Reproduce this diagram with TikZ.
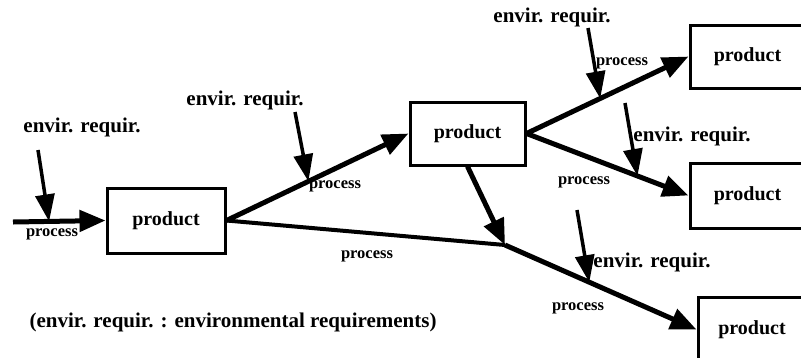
\documentclass[tikz,border=0pt]{standalone}
\usepackage{fontspec}
\setmainfont{Liberation Serif}
\usetikzlibrary{arrows.meta,calc}
\begin{document}
\begin{tikzpicture}[x=1pt,y=-1pt,
  box/.style={draw,line width=3pt,minimum width=115pt,minimum height=63pt,inner sep=0pt,font=\fontsize{20}{24}\selectfont\bfseries},
  flow/.style={line width=5pt,-{Triangle[length=26pt,width=21pt]}},
  plain/.style={line width=4pt},
  req/.style={line width=3.5pt,-{Triangle[length=27pt,width=19pt]}},
  lab/.style={font=\fontsize{21}{24}\selectfont\bfseries,inner sep=0pt},
  plab/.style={font=\fontsize{16.5}{18}\selectfont\bfseries,inner sep=0pt}]
\fill[white] (0,0) rectangle (801,357);
\clip (0,0) rectangle (801,357);
% boxes
\node[box,minimum width=118pt,minimum height=65pt] (b1) at (166,220.5) {product};
\node[box] (b2) at (467.5,133.5) {product};
\node[box] (b3) at (747.5,56.5) {product};
\node[box,minimum height=65pt] (b5) at (747.5,195.5) {product};
\node[box,minimum width=108pt,minimum height=65pt] (b4) at (752,329.5) {product};
% main flows
\coordinate (in) at (13,222);
\coordinate (j) at (505,245);
\draw[flow] (in) -- (b1.west);
\draw[flow] (b1.east) -- (b2.west);
\draw[plain] (b1.east) -- (j);
\draw[flow] (b2.south) -- (j);
\draw[flow] (j) -- (b4.west);
\draw[flow] (b2.east) -- (b3.west);
\draw[flow] (b2.east) -- (b5.west);
% requirement arrows
\coordinate (s1) at (38,150);
\coordinate (p1) at ($(in)!0.39!(b1.west)$);
\coordinate (s2) at (295,112);
\coordinate (p2) at ($(b1.east)!0.45!(b2.west)$);
\coordinate (s3) at (588,28);
\coordinate (p3) at ($(b2.east)!0.455!(b3.west)$);
\coordinate (s4) at (625,103);
\coordinate (p4) at ($(b2.east)!0.685!(b5.west)$);
\coordinate (s5) at (577,210);
\coordinate (p5) at ($(j)!0.44!(b4.west)$);
\draw[req] (s1) -- (p1);
\draw[req] (s2) -- (p2);
\draw[req] (s3) -- (p3);
\draw[req] (s4) -- (p4);
\draw[req] (s5) -- (p5);
% labels
\node[lab] (l1) at (82,127) {envir. requir.};
\node[lab] (l2) at (245,100) {envir. requir.};
\node[lab] (l3) at (552,17) {envir. requir.};
\node[lab] (l4) at (692,136) {envir. requir.};
\node[lab] (l5) at (652,262) {envir. requir.};
\node[plab] (q1) at (52,234) {process};
\node[plab] (q2) at (335,186) {process};
\node[plab] (q3) at (622,63) {process};
\node[plab] (q4) at (584,182) {process};
\node[plab] (q5) at (367,256) {process};
\node[plab] (q6) at (578,308) {process};
\node[lab] (note) at (233,322) {(envir. requir. : environmental requirements)};
\end{tikzpicture}
\end{document}
